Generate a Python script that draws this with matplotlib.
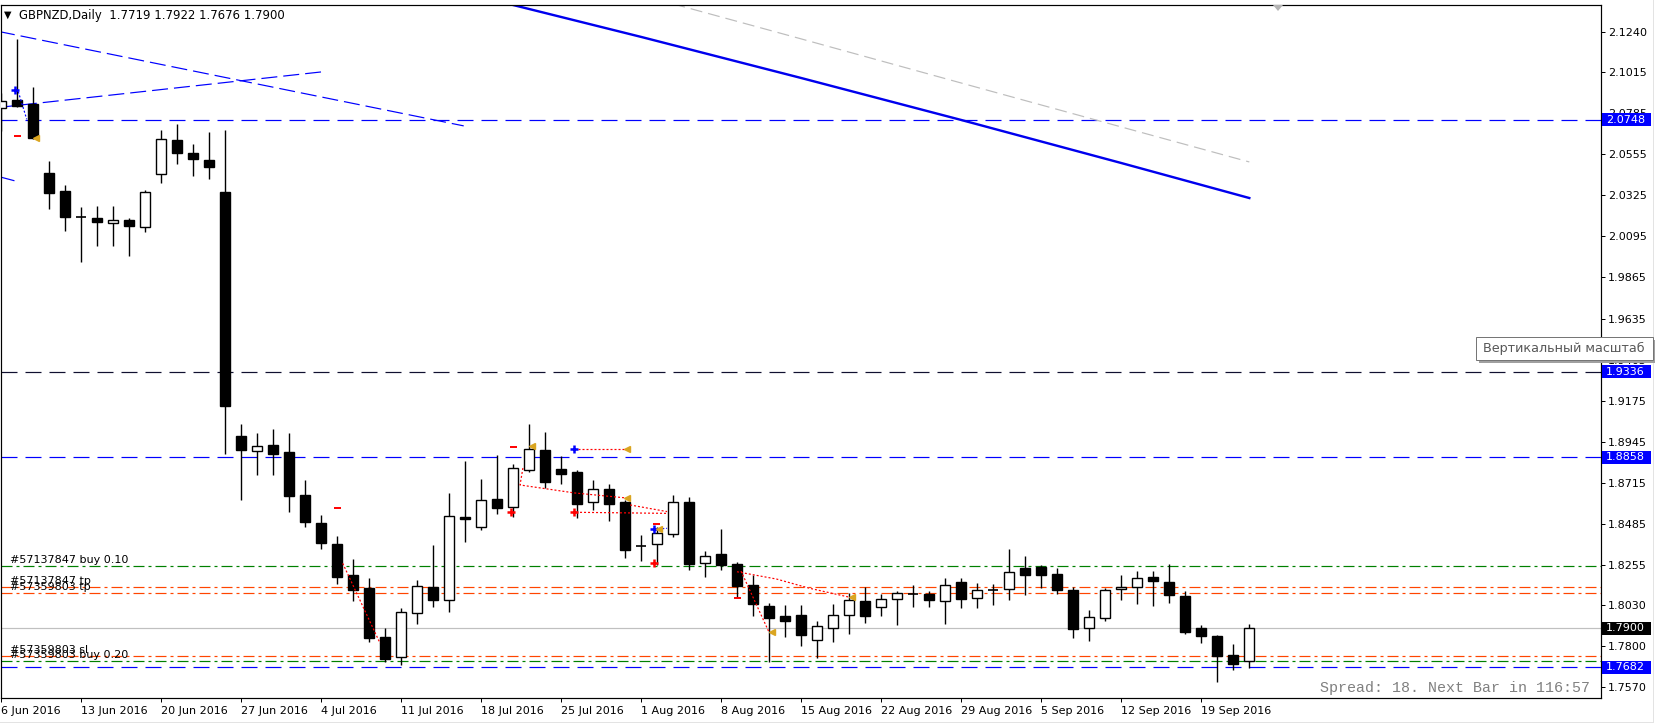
import matplotlib
matplotlib.use("Agg")
import matplotlib.pyplot as plt
import matplotlib.transforms as mtransforms
from matplotlib.patches import Rectangle, Polygon
import pandas as pd

plt.rcParams["font.family"] = ["DejaVu Sans"]
plt.rcParams["lines.scale_dashes"] = False

W, H = 1656, 726
PX = 0.72  # one pixel in points at dpi 100

# --- data -------------------------------------------------------------
symbol = "GBPNZD,Daily"
first_day = "2016-06-06"

opens = [2.0813, 2.0859, 2.0837, 2.0450, 2.0349, 2.0202, 2.0198, 2.0169, 2.0187, 2.0146,
         2.0446, 2.0635, 2.0562, 2.0523, 2.0344, 1.8977, 1.8892, 1.8927, 1.8888, 1.8647,
         1.8490, 1.8373, 1.8199, 1.8126, 1.7852, 1.7738, 1.7985, 1.8132, 1.8057, 1.8524,
         1.8466, 1.8625, 1.8581, 1.8785, 1.8899, 1.8793, 1.8776, 1.8606, 1.8681, 1.8608,
         1.8361, 1.8371, 1.8430, 1.8608, 1.8265, 1.8317, 1.8261, 1.8143, 1.8025, 1.7969,
         1.7975, 1.7837, 1.7904, 1.7977, 1.8054, 1.8018, 1.8063, 1.8091, 1.8093, 1.8052,
         1.8160, 1.8069, 1.8113, 1.8119, 1.8238, 1.8244, 1.8205, 1.8115, 1.7900, 1.7960,
         1.8119, 1.8130, 1.8188, 1.8160, 1.8081, 1.7902, 1.7857, 1.7751, 1.7719]
highs = [2.0900, 2.1201, 2.0932, 2.0517, 2.0383, 2.0260, 2.0265, 2.0265, 2.0197, 2.0355,
         2.0691, 2.0723, 2.0613, 2.0680, 2.0691, 1.9045, 1.8994, 1.9017, 1.8994, 1.8731,
         1.8535, 1.8417, 1.8289, 1.8180, 1.7902, 1.8013, 1.8171, 1.8367, 1.8658, 1.8837,
         1.8737, 1.8871, 1.8821, 1.9045, 1.9000, 1.8866, 1.8787, 1.8731, 1.8709, 1.8619,
         1.8423, 1.8469, 1.8647, 1.8636, 1.8333, 1.8457, 1.8272, 1.8199, 1.8041, 1.8029,
         1.8029, 1.7941, 1.8037, 1.8097, 1.8132, 1.8093, 1.8110, 1.8143, 1.8110, 1.8182,
         1.8182, 1.8154, 1.8149, 1.8345, 1.8306, 1.8255, 1.8238, 1.8130, 1.8003, 1.8126,
         1.8199, 1.8221, 1.8221, 1.8261, 1.8109, 1.7917, 1.7863, 1.7813, 1.7922]
lows = [2.0687, 2.0818, 2.0639, 2.0250, 2.0127, 1.9953, 2.0041, 2.0041, 1.9987, 2.0122,
        2.0396, 2.0501, 2.0435, 2.0417, 1.8877, 1.8621, 1.8761, 1.8761, 1.8553, 1.8469,
        1.8346, 1.8150, 1.8055, 1.7825, 1.7713, 1.7697, 1.7926, 1.8021, 1.7993, 1.8386,
        1.8453, 1.8541, 1.8526, 1.8776, 1.8684, 1.8709, 1.8520, 1.8565, 1.8503, 1.8296,
        1.8279, 1.8253, 1.8413, 1.8229, 1.8190, 1.8229, 1.8078, 1.7971, 1.7713, 1.7854,
        1.7803, 1.7736, 1.7825, 1.7870, 1.7932, 1.7971, 1.7921, 1.8021, 1.8021, 1.7926,
        1.8016, 1.8016, 1.8033, 1.8061, 1.8089, 1.8128, 1.8094, 1.7848, 1.7831, 1.7943,
        1.8061, 1.8038, 1.8027, 1.8044, 1.7870, 1.7820, 1.7601, 1.7669, 1.7676]
closes = [2.0853, 2.0827, 2.0648, 2.0340, 2.0206, 2.0203, 2.0178, 2.0187, 2.0155, 2.0344,
          2.0641, 2.0564, 2.0530, 2.0485, 1.9147, 1.8901, 1.8920, 1.8878, 1.8643, 1.8497,
          1.8380, 1.8189, 1.8117, 1.7848, 1.7730, 1.7990, 1.8136, 1.8061, 1.8528, 1.8511,
          1.8619, 1.8576, 1.8796, 1.8903, 1.8721, 1.8766, 1.8598, 1.8681, 1.8598, 1.8341,
          1.8362, 1.8432, 1.8606, 1.8262, 1.8304, 1.8257, 1.8139, 1.8038, 1.7960, 1.7943,
          1.7865, 1.7913, 1.7973, 1.8057, 1.7971, 1.8065, 1.8097, 1.8090, 1.8061, 1.8141,
          1.8066, 1.8113, 1.8114, 1.8214, 1.8201, 1.8201, 1.8117, 1.7898, 1.7962, 1.8115,
          1.8130, 1.8181, 1.8167, 1.8089, 1.7881, 1.7859, 1.7747, 1.7702, 1.7900]

price_ticks = [2.1240, 2.1015, 2.0785, 2.0555, 2.0325, 2.0095, 1.9865, 1.9635, 1.9405,
               1.9175, 1.8945, 1.8715, 1.8485, 1.8255, 1.8030, 1.7800, 1.7570]

# long moving averages (read at a few bars)
ma_bars = [31, 40, 50, 60, 70, 78]
ma_vals = [2.1413, 2.1212, 2.0982, 2.0747, 2.0506, 2.0310]
ma2_bars = [42, 50, 60, 70, 78]
ma2_vals = [2.1397, 2.1201, 2.0954, 2.0708, 2.0512]

# hand drawn trend lines (bar, price)
trend_bars = [[-1.0, 28.9], [-1.0, 19.98], [-1.0, 0.98]]
trend_vals = [[2.1258, 2.0714], [2.0809, 2.1016], [2.0450, 2.0403]]

# horizontal lines
hline_prices = [2.0748, 1.9336, 1.8858, 1.7682]
hline_colors = ["#0000ff", "#101030", "#0000ff", "#0000ff"]
bid_price = 1.7900
order_texts = ["#57137847 buy 0.10", "#57137847 tp", "#57359803 tp",
               "#57359803 sl", "#57359803 buy 0.20"]
order_prices = [1.8247, 1.8130, 1.8098, 1.7744, 1.7716]
order_colors = ["#008000", "#ff4500", "#ff4500", "#ff4500", "#008000"]

# trade history arrows
sell_open_bars = [31.84, 35.81, 40.81]
sell_open_vals = [1.8550, 1.8550, 1.8266]
buy_open_bars = [0.84, 35.81, 40.81]
buy_open_vals = [2.0915, 1.8903, 1.8456]
close_bars = [2.14, 33.15, 39.09, 39.09, 41.1, 48.15, 53.15]
close_vals = [2.0645, 1.8923, 1.8903, 1.8632, 1.8456, 1.7878, 1.8074]
stop_bars = [1.0, 21.01, 32.01, 40.95, 46.0]
stop_vals = [2.0656, 1.8574, 1.8914, 1.8484, 1.8068]
red_path_bars = [[21.34, 23.67], [32.6, 32.42, 35.86, 39.1], [35.92, 41.61],
                 [39.3, 41.61], [35.81, 39.09], [45.98, 48.46, 50.54, 53.04],
                 [46.23, 47.98]]
red_path_vals = [[1.8264, 1.7817], [1.8798, 1.8703, 1.8658, 1.8630], [1.8550, 1.8544],
                 [1.8591, 1.8554], [1.8903, 1.8903], [1.8217, 1.8176, 1.8124, 1.8074],
                 [1.8221, 1.7879]]
blue_path_bars = [[1.06, 1.59], [40.81, 41.61]]
blue_path_vals = [[2.0906, 2.0751], [1.8456, 1.8460]]

tag_prices = [2.0748, 1.9336, 1.8858, 1.7900, 1.7682]
tag_colors = ["#0000ff", "#0000ff", "#0000ff", "#000000", "#0000ff"]

spread_text = "Spread: 18. Next Bar in 116:57"
tooltip_text = "Вертикальный масштаб"

# --- figure -------------------------------------------------------------
fig = plt.figure(figsize=(W / 100, H / 100), dpi=100)
ax = fig.add_axes([1 / W, 28 / H, 1600 / W, 693 / H])
ax.set_xlim(-0.019, 99.98)
ax.set_ylim(1.7510, 2.1391)
ppu = 693 / (2.1391 - 1.7510)

for s in ax.spines.values():
    s.set_linewidth(PX * 1.2)
    s.set_color("black")

# horizontal objects (behind candles)
for p, c in zip(hline_prices, hline_colors):
    ax.axhline(p, color=c, lw=PX * 1.2, dashes=(16 * PX, 8 * PX), zorder=1)
ax.axhline(bid_price, color="#c0c0c0", lw=PX * 1.2, zorder=1)
for txt, p, c in zip(order_texts, order_prices, order_colors):
    ax.axhline(p, color=c, lw=PX * 1.2, dashes=(11 * PX, 4 * PX, 3 * PX, 4 * PX), zorder=1)
    ax.text(0.54, p + 1.2 / ppu, txt, fontsize=8, color="black", va="bottom", ha="left", zorder=6)

# moving averages and trend lines
ax.plot(ma_bars, ma_vals, color="#0000ee", lw=PX * 2.4, zorder=2)
ax.plot(ma2_bars, ma2_vals, color="#bebebe", lw=PX * 1.2, dashes=(12 * PX, 6 * PX), zorder=2)
for bx, by in zip(trend_bars, trend_vals):
    ax.plot(bx, by, color="#0000ff", lw=PX * 1.2, dashes=(16 * PX, 6 * PX), zorder=2)

# candles
bw = 0.62
ax.vlines(range(len(opens)), lows, highs, color="black", lw=1.0, zorder=3)
for i, (o, c) in enumerate(zip(opens, closes)):
    if abs(c - o) < 0.0003:
        ax.hlines(c, i - bw / 2, i + bw / 2, color="black", lw=1.2, zorder=4)
        continue
    face = "black" if c < o else "white"
    ax.add_patch(Rectangle((i - bw / 2, min(o, c)), bw, abs(c - o),
                           facecolor=face, edgecolor="black", lw=1.0, zorder=4))

# trade history
for bx, by in zip(red_path_bars, red_path_vals):
    ax.plot(bx, by, color="#ff0000", lw=PX * 1.2, dashes=(2 * PX, 2 * PX), zorder=5)
for bx, by in zip(blue_path_bars, blue_path_vals):
    ax.plot(bx, by, color="#0000ff", lw=PX * 1.2, dashes=(2 * PX, 2 * PX), zorder=5)
ax.plot(sell_open_bars, sell_open_vals, ls="none", marker="+", ms=6, mew=1.8, color="#ff0000", zorder=6)
ax.plot(buy_open_bars, buy_open_vals, ls="none", marker="+", ms=6, mew=1.8, color="#0000ff", zorder=6)
ax.plot(close_bars, close_vals, ls="none", marker="<", ms=4.5, color="#daa520", mec="#daa520", zorder=6)
ax.hlines(stop_vals, [b - 0.21 for b in stop_bars], [b + 0.21 for b in stop_bars],
          color="#ff0000", lw=1.4, zorder=6)

# axes ticks
dates = pd.bdate_range(first_day, periods=len(opens))
mondays = [i for i, d in enumerate(dates) if d.weekday() == 0]
ax.set_xticks(mondays)
ax.set_xticklabels([f"{dates[i].day} {dates[i]:%b %Y}" for i in mondays], ha="left", fontsize=8)
ax.tick_params(axis="x", length=3, width=PX, pad=3)
ax.yaxis.tick_right()
ax.set_yticks(price_ticks)
ax.set_yticklabels([f"{v:.4f}" for v in price_ticks], fontsize=8)
ax.tick_params(axis="y", length=3, width=PX, pad=2)

# price tags on the scale
trans = mtransforms.blended_transform_factory(fig.transFigure, ax.transData)
for p, c in zip(tag_prices, tag_colors):
    fig.add_artist(Rectangle((1602 / W, p - 6.5 / ppu), 49 / W, 13 / ppu, transform=trans,
                             facecolor=c, edgecolor="none", zorder=3))
    fig.text(1606 / W, p, f"{p:.4f}", transform=trans, color="white", fontsize=8,
             va="center", ha="left", zorder=4)

# title
fig.text(4 / W, 1 - 14.5 / H, "▼", fontsize=7, va="center", ha="left")
fig.text(19 / W, 1 - 15 / H,
         f"{symbol}  {opens[-1]:.4f} {highs[-1]:.4f} {lows[-1]:.4f} {closes[-1]:.4f}",
         fontsize=8.4, va="center", ha="left")

# chart shift marker
fig.add_artist(Polygon([(1273 / W, 1 - 5 / H), (1283 / W, 1 - 5 / H), (1278 / W, 1 - 11 / H)],
                       closed=True, facecolor="#b4b4b4", edgecolor="none", transform=fig.transFigure))

# spread info
fig.text(1590 / W, 1 - 688 / H, spread_text, family="Liberation Mono", fontsize=10.8,
         color="#808080", va="center", ha="right")

# tooltip
fig.add_artist(Rectangle((1479 / W, 1 - 363 / H), 177 / W, 23 / H, transform=fig.transFigure,
                         facecolor="#a0a0a0", edgecolor="none", zorder=8))
fig.add_artist(Rectangle((1476 / W, 1 - 360 / H), 177 / W, 23 / H, transform=fig.transFigure,
                         facecolor="white", edgecolor="#767676", lw=PX, zorder=9))
fig.text(1483 / W, 1 - 348.5 / H, tooltip_text, fontsize=9.2, color="#575757",
         va="center", ha="left", zorder=10)

# window borders
fig.add_artist(plt.Line2D([1653.5 / W, 1653.5 / W], [1 - 722 / H, 1], color="#e3e3e3", lw=PX,
                          transform=fig.transFigure))
fig.add_artist(plt.Line2D([0, 1653.5 / W], [1 - 722 / H, 1 - 722 / H], color="#e3e3e3", lw=PX,
                          transform=fig.transFigure))

fig.savefig("out.png", dpi=100)
